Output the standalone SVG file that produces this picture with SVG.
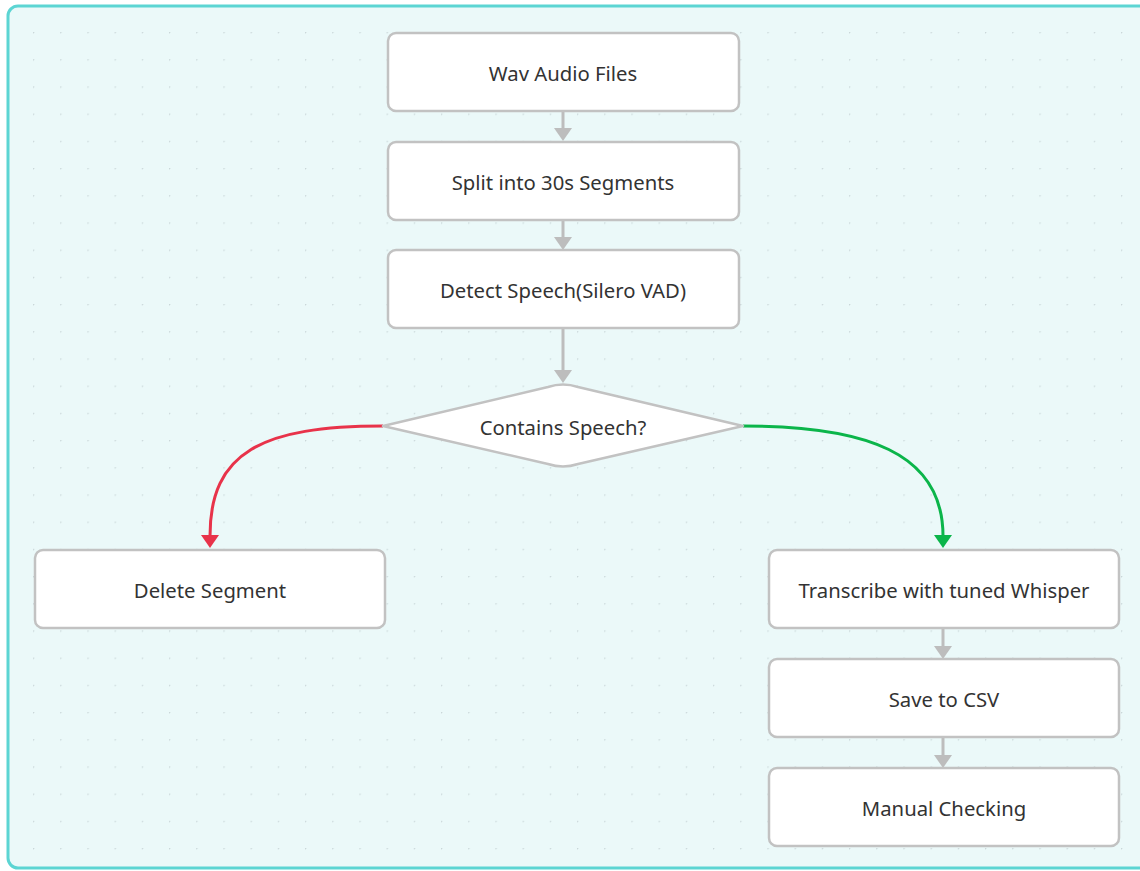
<svg xmlns="http://www.w3.org/2000/svg" width="1140" height="871" viewBox="0 0 1140 871">
<defs>
<pattern id="dots" x="33" y="32" width="27.2" height="27.2" patternUnits="userSpaceOnUse">
<circle cx="0.6" cy="0.6" r="0.8" fill="#c9d6d8"/>
</pattern>
</defs>
<style>
.box{fill:#ffffff;stroke:#c2c2c2;stroke-width:2.5}
.t{font-family:"Noto Sans","Open Sans","Liberation Sans",sans-serif;font-size:20.3px;fill:#333333;text-anchor:middle;dominant-baseline:central}
.c{fill:none;stroke:#bdbdbd;stroke-width:3}
.hg{fill:#bdbdbd}
</style>
<rect x="0" y="0" width="1140" height="871" fill="#ffffff"/>
<rect x="8" y="6" width="1150" height="862" rx="10" fill="#ebf9f9" stroke="#5cd5d3" stroke-width="3"/>
<rect x="10" y="8" width="1130" height="858" fill="url(#dots)"/>
<g id="connectors">
<path class="c" d="M563,111 V128"/>
<path class="hg" d="M554,128 L572,128 L563,141 Z"/>
<path class="c" d="M563,220 V237"/>
<path class="hg" d="M554,237 L572,237 L563,250 Z"/>
<path class="c" d="M563,328 V370"/>
<path class="hg" d="M554,370 L572,370 L563,383 Z"/>
<path d="M383,426 C262,426 210,452 210,536" fill="none" stroke="#e8334a" stroke-width="3"/>
<path d="M201,535 L219,535 L210,548 Z" fill="#e8334a"/>
<path d="M743,426 C865,426 943,452 943,536" fill="none" stroke="#0bb54a" stroke-width="3"/>
<path d="M934,535 L952,535 L943,548 Z" fill="#0bb54a"/>
<path class="c" d="M943,628 V646"/>
<path class="hg" d="M934,646 L952,646 L943,659 Z"/>
<path class="c" d="M943,737 V755"/>
<path class="hg" d="M934,755 L952,755 L943,768 Z"/>
</g>
<g id="wav">
<rect class="box" x="388" y="33" width="351" height="78" rx="8"/>
<text class="t" x="563" y="73">Wav Audio Files</text>
</g>
<g id="split">
<rect class="box" x="388" y="142" width="351" height="78" rx="8"/>
<text class="t" x="563" y="182">Split into 30s Segments</text>
</g>
<g id="detect">
<rect class="box" x="388" y="250" width="351" height="78" rx="8"/>
<text class="t" x="563" y="290">Detect Speech(Silero VAD)</text>
</g>
<g id="decision">
<path d="M383,426 L548,387 Q563,382 578,387 L743,426 L578,464 Q563,469 548,464 Z" fill="#ffffff" stroke="#c2c2c2" stroke-width="2.5" stroke-linejoin="round"/>
<text class="t" x="563" y="427">Contains Speech?</text>
</g>
<g id="delete">
<rect class="box" x="35" y="550" width="350" height="78" rx="8"/>
<text class="t" x="210" y="590">Delete Segment</text>
</g>
<g id="transcribe">
<rect class="box" x="769" y="550" width="350" height="78" rx="8"/>
<text class="t" x="944" y="590">Transcribe with tuned Whisper</text>
</g>
<g id="save">
<rect class="box" x="769" y="659" width="350" height="78" rx="8"/>
<text class="t" x="944" y="699">Save to CSV</text>
</g>
<g id="manual">
<rect class="box" x="769" y="768" width="350" height="78" rx="8"/>
<text class="t" x="944" y="808">Manual Checking</text>
</g>
</svg>
